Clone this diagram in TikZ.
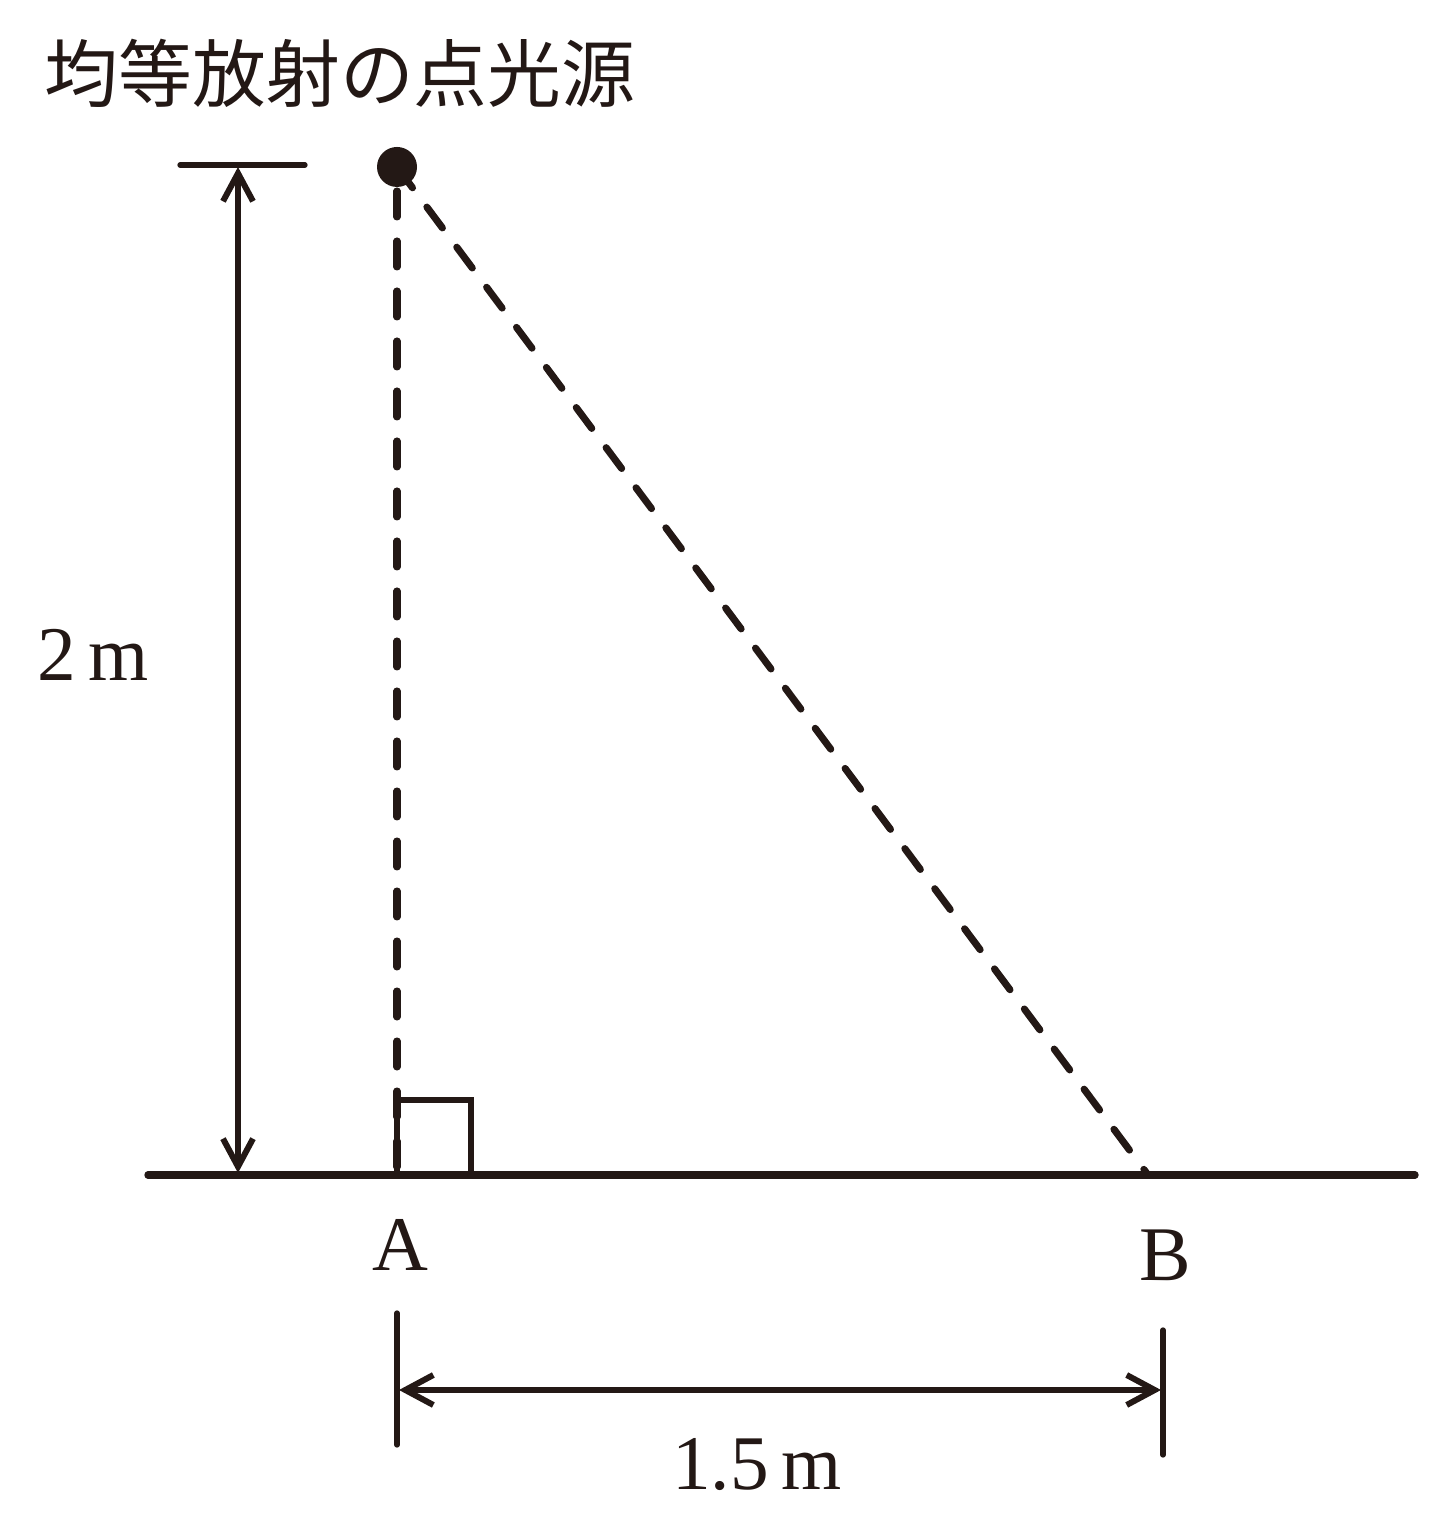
\documentclass[tikz,border=0pt]{standalone}
\usepackage{fontspec}
\setmainfont{Liberation Serif}
\newfontfamily\jpfont{Noto Sans CJK JP}
\usetikzlibrary{arrows.meta}
\definecolor{ink}{RGB}{35,24,21}
\tikzset{
  dimline/.style={draw=ink, line width=1.7pt, {Straight Barb[length=2.8mm,width=3mm]}-{Straight Barb[length=2.8mm,width=3mm]}},
  tickline/.style={draw=ink, line width=1.5pt, line cap=round},
  rayline/.style={draw=ink, line width=2pt, line cap=round, dash pattern=on 0.26cm off 0.24cm},
  lbl/.style={text=ink, font=\fontsize{22}{22}\selectfont, inner sep=0pt}
}
\begin{document}
\begin{tikzpicture}
\useasboundingbox (0,0) rectangle (14.56,15.31);
% points
\coordinate (L) at (3.97,13.64);
\coordinate (A) at (3.97,3.56);
\coordinate (B) at (11.48,3.56);
\coordinate (g1) at (1.48,3.56);
\coordinate (g2) at (14.15,3.56);
\coordinate (t1) at (1.80,13.66);
\coordinate (t2) at (3.05,13.66);
\coordinate (h1) at (2.38,13.64);
\coordinate (h2) at (2.38,3.58);
\coordinate (a1) at (3.97,2.18);
\coordinate (a2) at (3.97,0.86);
\coordinate (b1) at (11.63,2.01);
\coordinate (b2) at (11.63,0.76);
\coordinate (w1) at (3.99,1.41);
\coordinate (w2) at (11.61,1.41);

% title and labels
\node[lbl, font=\jpfont\fontsize{21}{21}\selectfont] (title) at (3.40,14.58) {均等放射の点光源};
\node[lbl] (lblH) at (0.93,8.76) {2\,m};
\node[lbl] (lblA) at (4.00,2.86) {A};
\node[lbl] (lblB) at (11.65,2.76) {B};
\node[lbl] (lblW) at (7.57,0.66) {1.5\,m};

% rays
\draw[rayline] (3.97,13.40) -- (A);
\draw[rayline] (L) -- (B);
\fill[ink] (L) circle (0.2);

% ground and right angle
\draw[tickline, line width=2.1pt] (g1) -- (g2);
\draw[ink, line width=1.5pt] (3.97,3.56) -- (3.97,4.31) -- (4.71,4.31) -- (4.71,3.56);

% dimensions
\draw[tickline] (t1) -- (t2);
\draw[dimline] (h1) -- (h2);
\draw[tickline] (a1) -- (a2);
\draw[tickline] (b1) -- (b2);
\draw[dimline] (w1) -- (w2);
\end{tikzpicture}
\end{document}
